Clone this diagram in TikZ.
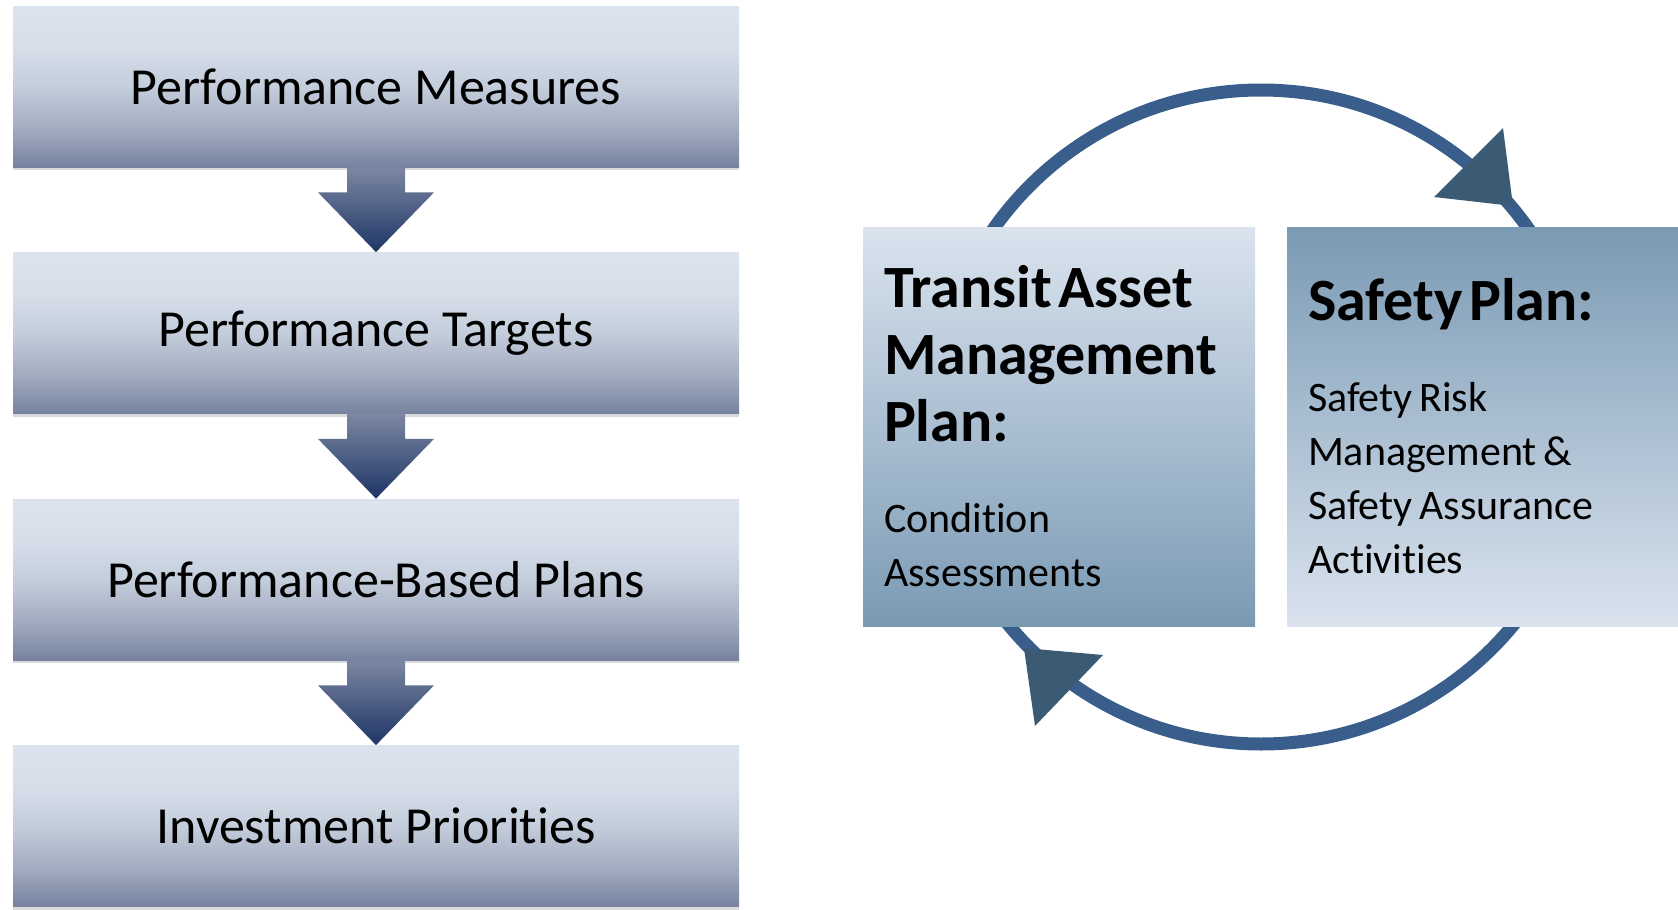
\documentclass[tikz,border=0pt]{standalone}
\usepackage{fontspec}
\setmainfont{Carlito}[Ligatures={NoCommon,NoContextual}]
\usetikzlibrary{calc,shadows}
\definecolor{steptop}{HTML}{DAE3EE}
\definecolor{stephi}{HTML}{D5DEE9}
\definecolor{stepmid}{HTML}{C4CDDB}
\definecolor{steplow}{HTML}{A2ACC0}
\definecolor{stepbot}{HTML}{7782A0}
\definecolor{darttop}{HTML}{7C87A2}
\definecolor{dartbot}{HTML}{1E3566}
\definecolor{planlight}{HTML}{DAE3EE}
\definecolor{planmid}{HTML}{ABBDCF}
\definecolor{plandark}{HTML}{7A9AB4}
\definecolor{ringblue}{HTML}{3A5E8C}
\definecolor{tipslate}{HTML}{3A5B73}
\pgfdeclareverticalshading{stepshade}{100bp}{color(0bp)=(stepbot); color(25bp)=(stepbot); color(37bp)=(steplow); color(50bp)=(stepmid); color(62bp)=(stephi); color(75bp)=(steptop); color(100bp)=(steptop)}
\newcommand\planhead{\fontsize{30}{33.5}\selectfont\bfseries}
\newcommand\planbody{\fontsize{21}{27}\selectfont}
\tikzset{
	stepbox/.style={shade, shading=stepshade, minimum width=363pt, minimum height=80.5pt, inner sep=0pt,
		font=\fontsize{26}{31}\selectfont, drop shadow={opacity=0.3, shadow xshift=0pt, shadow yshift=-1.5pt}},
	stepdart/.style={top color=darttop, bottom color=dartbot},
	planbox/.style={minimum width=196pt, minimum height=199.5pt, inner sep=10.5pt, text width=175pt, align=left},
	tambox/.style={planbox, top color=planlight, middle color=planmid, bottom color=plandark},
	safetybox/.style={planbox, top color=plandark, middle color=planmid, bottom color=planlight},
	cyclering/.style={draw=ringblue, line width=6.5pt},
	cycletip/.style={fill=tipslate}
}
\begin{document}
\begin{tikzpicture}[x=0.5pt,y=0.5pt,yscale=-1,xscale=1]
				\useasboundingbox (0,0) rectangle (1678,910);
				\node[stepbox] (pm) at (376,86.5) {Performance Measures};
				\node[stepbox] (pt) at (376,333) {Performance Targets};
				\node[stepbox] (pbp) at (376,579.5) {Performance-Based Plans};
				\node[stepbox] (ip) at (376,826) {Investment Priorities};
				\foreach \a/\b in {pm/pt,pt/pbp,pbp/ip}
					\shade[stepdart] ($(\a.south)+(-29,0)$) -- ($(\a.south)+(-29,25)$) -- ($(\a.south)+(-58,25)$) -- (\b.north)
						-- ($(\a.south)+(58,25)$) -- ($(\a.south)+(29,25)$) -- ($(\a.south)+(29,0)$) -- cycle;
				\coordinate (ring) at (1261,417);
				\draw[cyclering] (ring) circle[radius=327];
				\node[tambox] (tam) at (1059,426.5) {{\planhead Transit Asset\\Management\\Plan:\par}\vspace{18.5pt}{\planbody Condition\\Assessments\par}};
				\node[safetybox] (sp) at (1483,426.5) {{\planhead Safety Plan:\par}\vspace{18.5pt}{\planbody Safety Risk\\Management \&\\Safety Assurance\\Activities\par}};
				\fill[cycletip] (1503,128) -- (1513,206) -- (1434,197) -- cycle;
				\fill[cycletip] (1024,648) -- (1103,655) -- (1035,726) -- cycle;
			\end{tikzpicture}
\end{document}
